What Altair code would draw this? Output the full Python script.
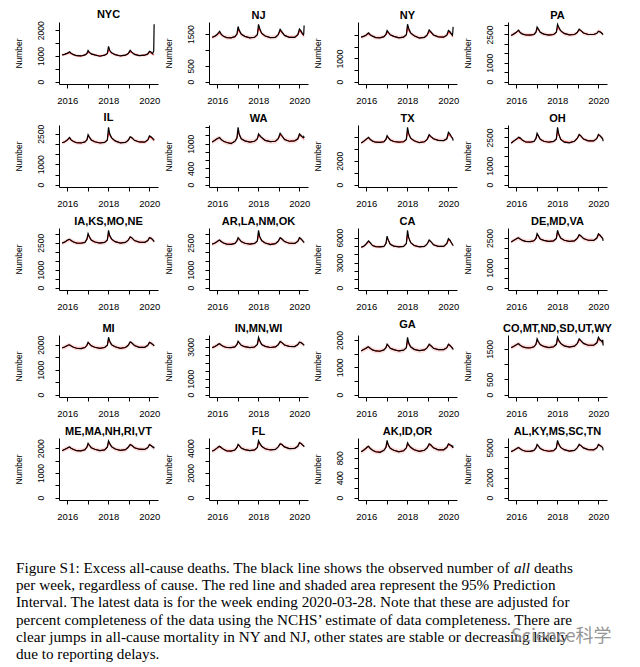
import altair as alt
import pandas as pd

# ---------------- data ----------------
dates = ["2015-10-03", "2015-11-14", "2015-12-26", "2016-01-23", "2016-02-13", "2016-03-12",
         "2016-04-23", "2016-06-18", "2016-09-03", "2016-11-12", "2016-12-17", "2017-01-07",
         "2017-01-28", "2017-03-04", "2017-05-06", "2017-08-05", "2017-10-28", "2017-12-16",
         "2018-01-06", "2018-01-27", "2018-03-03", "2018-05-05", "2018-08-04", "2018-11-03",
         "2018-12-22", "2019-01-26", "2019-02-23", "2019-04-13", "2019-07-06", "2019-10-12",
         "2019-12-07", "2020-01-04", "2020-02-01", "2020-02-29", "2020-03-14", "2020-03-21",
         "2020-03-28"]

states = ["NYC", "NJ", "NY", "PA", "IL", "WA", "TX", "OH", "IA,KS,MO,NE", "AR,LA,NM,OK",
          "CA", "DE,MD,VA", "MI", "IN,MN,WI", "GA", "CO,MT,ND,SD,UT,WY", "ME,MA,NH,RI,VT",
          "FL", "AK,ID,OR", "AL,KY,MS,SC,TN"]

nyc_obs = [1040,1060,1100,1130,1160,1100,1050,1010,1000,1040,1100,1210,1150,1080,1040,990,1030,1100,1370,1220,1120,1050,1000,1030,1090,1220,1150,1060,1010,1030,1080,1185,1150,1090,1150,1200,2230]
nyc_exp = [1040,1055,1090,1110,1120,1090,1050,1010,1000,1035,1080,1140,1130,1080,1040,1000,1030,1080,1230,1180,1110,1050,1005,1030,1080,1160,1140,1070,1015,1030,1070,1130,1120,1080,1060,1050,1045]
nj_obs = [1400,1430,1480,1540,1590,1500,1430,1390,1380,1420,1500,1740,1620,1500,1430,1380,1400,1480,1810,1680,1530,1440,1390,1400,1480,1650,1580,1460,1400,1400,1480,1660,1600,1510,1480,1500,1770]
nj_exp = [1400,1425,1470,1510,1530,1480,1430,1390,1385,1420,1480,1620,1590,1490,1430,1385,1400,1470,1690,1630,1510,1440,1390,1400,1470,1590,1560,1460,1405,1400,1470,1590,1570,1500,1460,1450,1440]
ny_obs = [1920,1950,2000,2060,2100,2020,1960,1900,1890,1940,2030,2200,2130,2020,1950,1890,1920,2020,2470,2300,2100,1980,1880,1910,2010,2230,2150,2010,1930,1920,2000,2200,2150,2050,2000,2100,2360]
ny_exp = [1920,1945,1990,2030,2050,2010,1960,1900,1895,1935,2010,2120,2100,2020,1950,1895,1920,2000,2300,2220,2080,1970,1890,1910,1990,2150,2120,2010,1935,1920,1990,2120,2100,2030,1980,1970,1960]
pa_obs = [2450,2520,2600,2680,2730,2600,2520,2480,2470,2500,2620,2900,2800,2620,2520,2470,2500,2620,3040,2900,2700,2560,2480,2500,2600,2780,2720,2580,2500,2500,2560,2660,2640,2580,2540,2520,2500]
pa_exp = [2460,2510,2580,2650,2680,2590,2520,2480,2475,2500,2600,2800,2770,2610,2520,2475,2500,2600,2880,2830,2680,2550,2480,2500,2590,2740,2700,2580,2500,2500,2560,2680,2660,2580,2540,2530,2520]
il_obs = [2060,2100,2180,2260,2320,2200,2120,2060,2050,2100,2200,2460,2350,2200,2110,2050,2080,2200,2820,2500,2300,2150,2060,2080,2180,2350,2320,2180,2100,2090,2200,2400,2360,2280,2250,2230,2190]
il_exp = [2070,2100,2170,2230,2260,2190,2120,2060,2055,2100,2190,2380,2340,2200,2110,2055,2080,2180,2560,2450,2280,2140,2060,2080,2170,2320,2300,2180,2100,2090,2180,2340,2320,2250,2200,2180,2170]
wa_obs = [1040,1080,1120,1140,1150,1100,1060,1030,1000,1060,1140,1400,1230,1120,1070,1040,1060,1120,1240,1200,1150,1080,1050,1060,1120,1255,1200,1100,1060,1070,1120,1240,1200,1160,1150,1170,1140]
wa_exp = [1040,1075,1110,1130,1140,1100,1060,1030,1010,1060,1130,1300,1220,1120,1070,1040,1060,1110,1210,1190,1140,1080,1050,1060,1110,1210,1190,1110,1060,1070,1110,1200,1190,1150,1130,1120,1110]
tx_obs = [3500,3620,3800,3900,3970,3800,3650,3560,3550,3600,3800,4110,3950,3750,3620,3560,3600,3800,4810,4300,3900,3680,3520,3600,3800,4190,4050,3850,3720,3700,3850,4390,4250,4000,3900,3850,3690]
tx_exp = [3520,3610,3760,3860,3900,3780,3650,3560,3555,3600,3780,4020,3960,3760,3620,3560,3600,3760,4400,4200,3880,3670,3540,3600,3780,4100,4020,3850,3720,3700,3840,4200,4150,3980,3900,3880,3860]
oh_obs = [2200,2300,2400,2450,2510,2480,2350,2260,2250,2290,2450,2720,2600,2400,2300,2250,2290,2420,3040,2700,2400,2250,2220,2300,2450,2660,2600,2420,2320,2320,2450,2660,2600,2500,2450,2420,2300]
oh_exp = [2230,2300,2380,2440,2470,2440,2350,2260,2255,2290,2430,2640,2590,2400,2300,2255,2290,2400,2820,2650,2420,2280,2240,2300,2430,2620,2580,2420,2320,2320,2440,2620,2590,2500,2460,2450,2440]
ia_obs = [2480,2530,2620,2680,2690,2620,2540,2480,2470,2520,2700,3010,2850,2650,2540,2480,2520,2650,3190,2900,2700,2560,2480,2520,2640,2830,2780,2620,2530,2520,2620,2780,2760,2680,2620,2600,2550]
ia_exp = [2490,2525,2600,2650,2670,2610,2540,2485,2475,2520,2670,2900,2830,2640,2540,2485,2520,2630,3000,2860,2680,2550,2485,2520,2630,2790,2760,2620,2530,2520,2610,2760,2740,2660,2620,2600,2590]
ar_obs = [2420,2470,2560,2620,2650,2570,2480,2420,2410,2460,2600,2780,2700,2560,2470,2420,2460,2600,3190,2850,2620,2480,2400,2450,2580,2780,2720,2570,2470,2460,2580,2780,2720,2620,2560,2540,2510]
ar_exp = [2430,2465,2540,2600,2620,2560,2480,2425,2415,2460,2580,2730,2690,2560,2470,2425,2460,2580,2950,2800,2600,2480,2420,2450,2570,2740,2700,2570,2470,2460,2570,2740,2700,2610,2560,2550,2540]
ca_obs = [4850,4950,5200,5450,5610,5400,5050,4920,4900,4950,5300,6180,5700,5200,4980,4900,4950,5300,6880,6000,5400,5050,4900,4950,5250,5720,5550,5150,4950,4950,5300,5880,5700,5350,5200,5150,5030]
ca_exp = [4870,4940,5150,5380,5480,5350,5050,4920,4905,4950,5250,5900,5750,5220,4980,4905,4950,5250,6300,6000,5400,5050,4910,4950,5220,5640,5520,5150,4950,4950,5250,5700,5650,5330,5200,5150,5100]
de_obs = [2300,2380,2450,2500,2510,2450,2380,2330,2320,2360,2480,2720,2620,2450,2380,2330,2360,2480,2890,2700,2500,2390,2330,2360,2480,2670,2620,2480,2390,2380,2500,2720,2650,2550,2500,2470,2360]
de_exp = [2310,2370,2430,2480,2490,2440,2380,2330,2325,2360,2460,2650,2610,2450,2380,2330,2360,2460,2780,2680,2490,2390,2330,2360,2460,2620,2600,2480,2390,2380,2480,2650,2630,2540,2500,2480,2470]
mi_obs = [1870,1910,1960,1990,2000,1950,1900,1860,1850,1890,1980,2100,2050,1960,1900,1860,1890,1980,2300,2150,2000,1920,1860,1890,1980,2120,2080,1970,1900,1900,1980,2100,2070,2020,1990,1980,1950]
mi_exp = [1880,1905,1950,1980,1990,1950,1900,1860,1855,1890,1970,2070,2040,1960,1900,1860,1890,1970,2190,2120,1990,1915,1860,1890,1970,2090,2070,1970,1900,1900,1970,2080,2060,2010,1990,1980,1970]
in_obs = [2950,3010,3100,3170,3200,3120,3020,2960,2950,3000,3150,3350,3250,3100,3010,2950,2990,3150,3600,3400,3150,3030,2960,3000,3130,3350,3280,3120,3030,3020,3150,3300,3270,3200,3150,3130,3100]
in_exp = [2960,3005,3090,3150,3170,3110,3020,2960,2955,3000,3130,3300,3240,3100,3010,2955,2990,3130,3450,3350,3140,3030,2960,3000,3120,3300,3260,3120,3030,3020,3130,3280,3260,3190,3150,3140,3130]
ga_obs = [1600,1650,1700,1740,1750,1700,1640,1600,1590,1640,1720,1850,1800,1700,1650,1600,1630,1720,2100,1900,1750,1660,1610,1640,1720,1850,1800,1700,1650,1650,1720,1850,1800,1740,1700,1690,1650]
ga_exp = [1610,1645,1690,1720,1730,1690,1640,1600,1595,1640,1710,1820,1790,1700,1650,1600,1630,1710,1950,1860,1740,1660,1610,1640,1710,1820,1790,1700,1650,1650,1710,1820,1800,1740,1710,1700,1690]
co_obs = [1540,1580,1630,1660,1670,1620,1570,1540,1530,1570,1650,1830,1740,1640,1580,1540,1570,1650,1880,1780,1680,1600,1560,1590,1670,1830,1780,1680,1620,1620,1700,1880,1800,1760,1720,1800,1610]
co_exp = [1550,1575,1620,1650,1660,1620,1570,1540,1535,1570,1640,1760,1730,1640,1580,1545,1570,1640,1800,1760,1670,1600,1565,1590,1660,1780,1760,1680,1620,1620,1690,1800,1790,1740,1710,1700,1690]
me_obs = [1900,1950,2000,2040,2050,2000,1950,1900,1890,1940,2050,2200,2130,2020,1960,1900,1930,2050,2300,2200,2060,1970,1910,1940,2040,2150,2120,2020,1960,1950,2030,2150,2110,2060,2030,2040,2000]
me_exp = [1910,1945,1990,2020,2030,1990,1950,1900,1895,1940,2030,2150,2120,2020,1960,1900,1930,2030,2230,2170,2050,1970,1910,1940,2030,2130,2110,2020,1960,1950,2020,2130,2110,2060,2030,2020,2010]
fl_obs = [3750,3850,4000,4100,4150,4050,3900,3780,3760,3850,4050,4300,4200,4000,3880,3800,3850,4050,4600,4400,4150,3950,3850,3900,4100,4350,4300,4100,3960,3980,4150,4450,4380,4250,4200,4180,4100]
fl_exp = [3770,3845,3980,4060,4090,4020,3900,3785,3770,3850,4030,4240,4190,4000,3880,3805,3850,4030,4450,4350,4130,3950,3855,3900,4080,4310,4280,4100,3960,3980,4140,4400,4370,4250,4200,4190,4180]
ak_obs = [920,950,990,1020,1030,990,950,920,910,950,1010,1150,1060,990,950,920,940,1000,1100,1060,1010,960,930,950,1000,1080,1060,1000,960,960,1010,1080,1060,1040,1020,1030,1000]
ak_exp = [925,945,980,1005,1015,985,950,920,915,950,1000,1100,1050,990,950,925,940,990,1070,1050,1000,960,930,950,995,1060,1050,1000,960,960,1000,1060,1050,1030,1015,1010,1005]
al_obs = [4580,4700,4850,4950,5000,4880,4720,4620,4600,4700,4950,5300,5150,4900,4720,4620,4680,4950,5700,5350,5000,4780,4640,4700,4950,5300,5200,4950,4780,4760,4950,5300,5200,5100,5000,4950,4700]
al_exp = [4600,4695,4830,4920,4950,4870,4720,4620,4605,4700,4920,5220,5130,4900,4720,4625,4680,4920,5500,5300,4980,4780,4645,4700,4930,5250,5180,4950,4780,4760,4940,5250,5190,5080,5010,5000,4990]

observed = [nyc_obs, nj_obs, ny_obs, pa_obs, il_obs, wa_obs, tx_obs, oh_obs, ia_obs, ar_obs,
            ca_obs, de_obs, mi_obs, in_obs, ga_obs, co_obs, me_obs, fl_obs, ak_obs, al_obs]
expected = [nyc_exp, nj_exp, ny_exp, pa_exp, il_exp, wa_exp, tx_exp, oh_exp, ia_exp, ar_exp,
            ca_exp, de_exp, mi_exp, in_exp, ga_exp, co_exp, me_exp, fl_exp, ak_exp, al_exp]
band_halfwidth = [60, 70, 90, 110, 100, 60, 170, 110, 120, 120,
                  220, 110, 90, 140, 90, 80, 90, 180, 50, 210]

y_tick_step = [500, 500, 500, 500, 500, 200, 1000, 500, 500, 500,
               1000, 500, 500, 500, 500, 500, 500, 1000, 200, 1000]
y_label_values = [[0, 1000, 2000], [0, 500, 1500], [0, 1000, 2500], [0, 1000, 2500],
                  [0, 1000, 2500], [0, 400, 1000], [0, 2000, 5000], [0, 1000, 2500],
                  [0, 1000, 2500], [0, 1000, 2500], [0, 3000, 6000], [0, 1000, 2500],
                  [0, 1000, 2000], [0, 1000, 3000], [0, 1000, 2000], [0, 500, 1500],
                  [0, 1000, 2000], [0, 2000, 4000], [0, 400, 800], [0, 2000, 5000]]

x_tick_years = [2016, 2017, 2018, 2019, 2020]
x_label_years = ["2016", "2018", "2020"]

caption_line1 = "Figure S1: Excess all-cause deaths. The black line shows the observed number of"
caption_line1_italic = "all"
caption_line1_end = "deaths"
caption_rest = [
    "per week, regardless of cause. The red line and shaded area represent the 95% Prediction",
    "Interval. The latest data is for the week ending 2020-03-28. Note that these are adjusted for",
    "percent completeness of the data using the NCHS\u2019 estimate of data completeness. There are",
    "clear jumps in all-cause mortality in NY and NJ, other states are stable or decreasing likely",
    "due to reporting delays.",
]
watermark = "Science科学"

# ---------------- panels ----------------
SANS = "Liberation Sans"
x_axis = alt.Axis(
    values=[alt.DateTime(year=y, month=1, date=1) for y in x_tick_years],
    format="%Y",
    labelExpr="indexof([%s], datum.label) >= 0 ? datum.label : ''"
    % ",".join("'%s'" % s for s in x_label_years),
    title=None, labelFontSize=9.5, labelPadding=7, tickSize=4,
)
x_scale = alt.Scale(domain=[alt.DateTime(year=2015, month=8, date=8),
                            alt.DateTime(year=2020, month=6, date=5)])


def panel(i):
    obs = observed[i]
    exp = expected[i]
    hw = band_halfwidth[i]
    df = pd.DataFrame({
        "date": dates, "obs": obs, "exp": exp,
        "lo": [e - hw for e in exp], "hi": [e + hw for e in exp],
    })
    top = max(max(obs), max(df["hi"]))
    dom = [-0.04 * top, 1.04 * top]
    step = y_tick_step[i]
    ticks = list(range(0, int(top) + 1, step))
    labs = y_label_values[i]
    y_axis = alt.Axis(
        values=ticks, format="d", title="Number",
        labelExpr="indexof([%s], datum.value) >= 0 ? datum.label : ''"
        % ",".join(str(v) for v in labs),
        labelAngle=270, labelAlign="center", labelBaseline="bottom",
        labelFontSize=8.5, labelPadding=10, tickSize=4,
        titleFontSize=8.5, titlePadding=13,
    )
    y_scale = alt.Scale(domain=dom, nice=False, zero=False)
    x = alt.X("date:T", scale=x_scale, axis=x_axis)
    base = alt.Chart(df)
    band = base.mark_area(color="#f4a0a0", opacity=0.35).encode(
        x=x, y=alt.Y("lo:Q", scale=y_scale, axis=y_axis), y2="hi:Q")
    red = base.mark_line(color="#ff0000", strokeWidth=1).encode(
        x=x, y=alt.Y("exp:Q", scale=y_scale, axis=y_axis))
    black = base.mark_line(color="black", strokeWidth=1.2).encode(
        x=x, y=alt.Y("obs:Q", scale=y_scale, axis=y_axis))
    return alt.layer(band, red, black).properties(
        width=99, height=62,
        title=alt.TitleParams(text=states[i], fontSize=11, fontWeight="bold",
                              anchor="middle", frame="group", offset=1,
                              font=SANS, color="black"),
    )


grid = alt.concat(*[panel(i) for i in range(len(states))], columns=4,
                  spacing={"row": 7, "column": 3})

# ---------------- caption ----------------
SERIF = "Liberation Serif"
FS = 15.2
X0 = -43  # caption left edge relative to its view
cap_df = pd.DataFrame({"row": list(range(1, 1 + len(caption_rest))), "text": caption_rest})
cap_y = alt.Y("row:Q", axis=None, scale=alt.Scale(domain=[-0.5, 5.5], reverse=True, nice=False, zero=False))
cap_common = dict(align="left", baseline="middle", font=SERIF, fontSize=FS, color="black")

cap_rest = alt.Chart(cap_df).mark_text(**cap_common).encode(x=alt.value(X0), y=cap_y, text="text:N")
l1 = pd.DataFrame({"row": [0], "a": [caption_line1], "b": [caption_line1_italic], "c": [caption_line1_end]})
cap_a = alt.Chart(l1).mark_text(**cap_common).encode(x=alt.value(X0), y=cap_y, text="a:N")
cap_b = alt.Chart(l1).mark_text(fontStyle="italic", **cap_common).encode(x=alt.value(X0 + 498), y=cap_y, text="b:N")
cap_c = alt.Chart(l1).mark_text(**cap_common).encode(x=alt.value(X0 + 518), y=cap_y, text="c:N")
wm_df = pd.DataFrame({"row": [4], "text": [watermark]})
cap_wm = alt.Chart(wm_df).mark_text(align="left", baseline="middle", font="Noto Sans CJK SC",
                                    fontSize=18, color="#8a8a8a", opacity=0.9).encode(
    x=alt.value(X0 + 495), y=cap_y, text="text:N")

caption = alt.layer(cap_a, cap_b, cap_c, cap_rest, cap_wm).properties(width=520, height=104)

chart = alt.vconcat(grid, caption, spacing=38).properties(
    padding={"left": 5, "top": 0, "right": 0, "bottom": 0}
).configure_view(stroke=None).configure_axis(
    grid=False, domainColor="black", tickColor="black", labelColor="black",
    titleColor="black", labelFont=SANS, titleFont=SANS, titleFontWeight="normal",
    domainWidth=1, tickWidth=1,
)

chart.save("out.html", embed_options={"renderer": "svg", "actions": False})
